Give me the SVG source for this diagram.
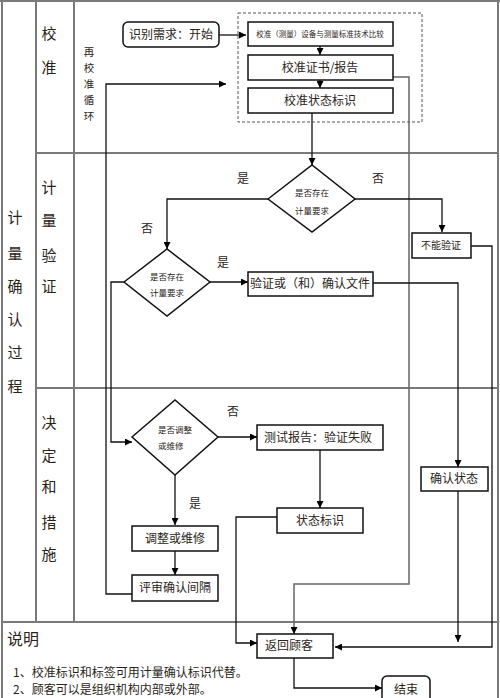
<svg xmlns="http://www.w3.org/2000/svg" width="500" height="698" viewBox="0 0 500 698">
<defs>
<marker id="ah" viewBox="0 0 10 10" refX="10" refY="5" markerWidth="7" markerHeight="7" markerUnits="userSpaceOnUse" orient="auto">
<path d="M0,0 L10,5 L0,10 z" fill="#000"/>
</marker>
<style>
.grid{stroke:#7a7a7a;stroke-width:2;fill:none}
.box{fill:#fff;stroke:#111;stroke-width:1.5}
.c{fill:none;stroke:#111;stroke-width:1.3}
.cg{fill:none;stroke:#666;stroke-width:1.5}
text{font-family:"Noto Sans CJK SC","Noto Sans",sans-serif;fill:#2a2418}
.lab{font-size:15px;text-anchor:middle}
.v{font-size:10.5px;text-anchor:middle}
.n{font-size:12px;text-anchor:middle}
.s{font-size:8.5px;text-anchor:middle}
.yn{font-size:12px;text-anchor:middle}
</style>
</defs>
<rect width="500" height="698" fill="#fff"/>
<g id="grid">
<line class="grid" x1="2" y1="0" x2="2" y2="698"/>
<line class="grid" x1="0" y1="1" x2="500" y2="1"/>
<line class="grid" x1="498" y1="0" x2="498" y2="698"/>
<line class="grid" x1="36" y1="0" x2="36" y2="622"/>
<line class="grid" x1="74" y1="0" x2="74" y2="622"/>
<line class="grid" x1="36" y1="153" x2="498" y2="153"/>
<line class="grid" x1="36" y1="388" x2="498" y2="388"/>
<line class="grid" x1="2" y1="622" x2="498" y2="622"/>
</g>
<g id="labels">
<text class="lab" x="49" y="39">校</text>
<text class="lab" x="49" y="73">准</text>
<text class="v" x="89" y="56">再</text>
<text class="v" x="89" y="72">校</text>
<text class="v" x="89" y="88">准</text>
<text class="v" x="89" y="104">循</text>
<text class="v" x="89" y="120">环</text>
<text class="lab" x="49" y="193">计</text>
<text class="lab" x="49" y="226">量</text>
<text class="lab" x="49" y="261">验</text>
<text class="lab" x="49" y="292">证</text>
<text class="lab" x="15" y="223">计</text>
<text class="lab" x="15" y="259">量</text>
<text class="lab" x="15" y="292">确</text>
<text class="lab" x="15" y="325">认</text>
<text class="lab" x="15" y="358">过</text>
<text class="lab" x="15" y="392">程</text>
<text class="lab" x="49" y="428">决</text>
<text class="lab" x="49" y="461">定</text>
<text class="lab" x="49" y="492">和</text>
<text class="lab" x="49" y="528">措</text>
<text class="lab" x="49" y="560">施</text>
<text x="7" y="645" font-size="16">说明</text>
<text x="13" y="677" font-size="12">1、校准标识和标签可用计量确认标识代替。</text>
<text x="13" y="694" font-size="12">2、顾客可以是组织机构内部或外部。</text>
</g>
<g id="connectors">
<path class="c" d="M219,35 H246" marker-end="url(#ah)"/>
<path class="c" d="M320,46 V55" marker-end="url(#ah)"/>
<path class="c" d="M320,80 V88" marker-end="url(#ah)"/>
<path class="c" d="M312,113 V165" marker-end="url(#ah)"/>
<path class="cg" d="M392,77 H409 V584 H294 V634" marker-end="url(#ah)"/>
<path class="c" d="M268,199 H167 V249" marker-end="url(#ah)"/>
<path class="c" d="M355,199 H442 V232" marker-end="url(#ah)"/>
<path class="c" d="M471,246 H492 V647 H335" marker-end="url(#ah)"/>
<path class="c" d="M210,282 H248" marker-end="url(#ah)"/>
<path class="c" d="M373,283 H458 V467" marker-end="url(#ah)"/>
<path class="c" d="M458,491 V642" marker-end="url(#ah)"/>
<path class="c" d="M124,282 H111 V442 H132" marker-end="url(#ah)"/>
<path class="c" d="M132,594 H106 V84 H226" marker-end="url(#ah)"/>
<path class="c" d="M218,437 H257" marker-end="url(#ah)"/>
<path class="c" d="M320,450 V508" marker-end="url(#ah)"/>
<path class="c" d="M277,517 H236 V643 H257" marker-end="url(#ah)"/>
<path class="c" d="M175,475 V525" marker-end="url(#ah)"/>
<path class="c" d="M175,551 V575" marker-end="url(#ah)"/>
<path class="c" d="M294,658 V688 H382" marker-end="url(#ah)"/>
<text class="yn" x="243" y="183">是</text>
<text class="yn" x="378" y="183">否</text>
<text class="yn" x="147" y="233">否</text>
<text class="yn" x="223" y="267">是</text>
<text class="yn" x="233" y="416">否</text>
<text class="yn" x="195" y="508">是</text>
</g>
<rect x="238" y="13" width="184" height="109" fill="none" stroke="#555" stroke-width="1" stroke-dasharray="3,2"/>
<g id="start">
<rect class="box" x="123" y="22" width="96" height="25" rx="5"/>
<text class="n" x="171" y="39">识别需求：开始</text>
</g>
<g id="compare">
<rect class="box" x="248" y="22" width="145" height="24"/>
<text class="s" x="320" y="37" style="font-size:7.5px">校准（测量）设备与测量标准技术比较</text>
</g>
<g id="cert">
<rect class="box" x="248" y="55" width="145" height="25"/>
<text class="n" x="320" y="72">校准证书/报告</text>
</g>
<g id="calstatus">
<rect class="box" x="248" y="88" width="145" height="25"/>
<text class="n" x="320" y="105">校准状态标识</text>
</g>
<g id="d1">
<polygon class="box" points="268,199 312,165 355,199 312,232"/>
<text class="s" x="312" y="196">是否存在</text>
<text class="s" x="312" y="214">计量要求</text>
</g>
<g id="cannot">
<rect class="box" x="412" y="233" width="59" height="25"/>
<text class="s" x="441" y="249" style="font-size:10px">不能验证</text>
</g>
<g id="d2">
<polygon class="box" points="124,282 167,249 210,282 167,316"/>
<text class="s" x="167" y="280">是否存在</text>
<text class="s" x="167" y="296">计量要求</text>
</g>
<g id="verify">
<rect class="box" x="248" y="272" width="125" height="24"/>
<text class="n" x="310" y="288">验证或（和）确认文件</text>
</g>
<g id="confirm">
<rect class="box" x="421" y="467" width="67" height="24"/>
<text class="n" x="454" y="483">确认状态</text>
</g>
<g id="d3">
<polygon class="box" points="132,437 175,400 218,437 175,475"/>
<text x="158" y="433" font-size="8.5">是否调整</text>
<text x="158" y="449" font-size="8.5">或维修</text>
</g>
<g id="testreport">
<rect class="box" x="257" y="425" width="126" height="25"/>
<text class="n" x="318" y="442">测试报告：验证失败</text>
</g>
<g id="statusmark">
<rect class="box" x="277" y="508" width="86" height="25"/>
<text class="n" x="320" y="525">状态标识</text>
</g>
<g id="adjust">
<rect class="box" x="132" y="526" width="86" height="25"/>
<text class="n" x="175" y="543">调整或维修</text>
</g>
<g id="review">
<rect class="box" x="132" y="575" width="86" height="26"/>
<text class="n" x="175" y="592">评审确认间隔</text>
</g>
<g id="return">
<rect class="box" x="257" y="634" width="76" height="24"/>
<text x="265" y="650" font-size="12">返回顾客</text>
</g>
<g id="end">
<rect class="box" x="382" y="676" width="48" height="30" rx="5"/>
<text class="n" x="406" y="694">结束</text>
</g>
</svg>
